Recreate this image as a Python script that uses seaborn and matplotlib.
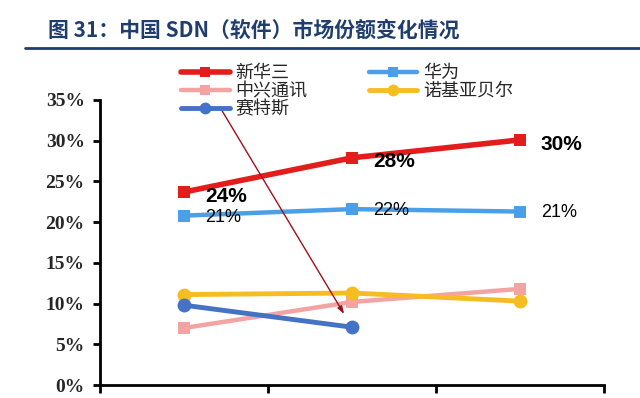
"""图 31：中国 SDN（软件）市场份额变化情况 — 折线图复刻。"""
import matplotlib

matplotlib.use("Agg")
import matplotlib.pyplot as plt
import matplotlib.lines as mlines
import pandas as pd
import seaborn as sns
from matplotlib.ticker import FuncFormatter, FixedLocator

# 数据（市场份额）
periods = [0, 1, 2]
xinhuasan = [0.237, 0.279, 0.301]
huawei = [0.208, 0.216, 0.213]
zte = [0.070, 0.102, 0.118]
nokia_bell = [0.111, 0.113, 0.103]
saitesi = [0.098, 0.071]

xinhuasan_labels = ["24%", "28%", "30%"]
huawei_labels = ["21%", "22%", "21%"]

TITLE = "图 31：中国 SDN（软件）市场份额变化情况"
TITLE_COLOR = "#1F3E6E"

series = [
    # name, values, color, marker, markersize, linewidth
    ("新华三", xinhuasan, "#E31C1C", "s", 8.5, 4.0),
    ("华为", huawei, "#4A9FE8", "s", 8.5, 3.2),
    ("中兴通讯", zte, "#F4A3A3", "s", 8.5, 3.2),
    ("诺基亚贝尔", nokia_bell, "#F5BD22", "o", 10, 3.5),
    ("赛特斯", saitesi, "#4472C4", "o", 10, 3.5),
]

sns.set_style("white")
plt.rcParams["font.family"] = ["Noto Sans CJK SC", "DejaVu Sans"]

fig = plt.figure(figsize=(6.4, 3.98), dpi=100)
ax = fig.add_axes([100 / 640, 13 / 398, 504 / 640, 285 / 398])

handles = {}
for name, values, color, marker, ms, lw in series:
    df = pd.DataFrame({"period": periods[: len(values)], "share": values})
    sns.lineplot(
        data=df, x="period", y="share", ax=ax, color=color, marker=marker,
        markersize=ms, linewidth=lw, markeredgewidth=0, estimator=None,
    )
    handles[name] = mlines.Line2D(
        [], [], color=color, marker=marker, markersize=ms * 0.85,
        linewidth=lw, markeredgewidth=0,
    )

# 数据标签
for x, y, lab in zip(periods, xinhuasan, xinhuasan_labels):
    ax.annotate(lab, (x, y), xytext=(15, -3), textcoords="offset points",
                ha="left", va="center", fontsize=15, fontweight="bold",
                family=["Liberation Sans"], color="black")
for x, y, lab in zip(periods, huawei, huawei_labels):
    ax.annotate(lab, (x, y), xytext=(15, -1), textcoords="offset points",
                ha="left", va="center", fontsize=13,
                family=["Liberation Sans"], color="black")

# 从图例指向赛特斯的箭头
ax.annotate(
    "", xy=(periods[1], saitesi[1]), xytext=(221, 289), textcoords="figure pixels",
    arrowprops=dict(arrowstyle="-|>,head_length=0.45,head_width=0.15",
                    color="#A0101A", lw=1.0, shrinkA=0, shrinkB=11),
)

ax.set_xlim(-0.5, 2.5)
ax.set_ylim(0, 0.35)
ax.xaxis.set_major_locator(FixedLocator([-0.5, 0.5, 1.5, 2.5]))
ax.set_xticklabels([])
ax.set_yticks([0, 0.05, 0.10, 0.15, 0.20, 0.25, 0.30, 0.35])
ax.yaxis.set_major_formatter(FuncFormatter(lambda v, _: f"{v * 100:.0f}%"))
for lab in ax.get_yticklabels():
    lab.set_family(["Liberation Serif"])
    lab.set_fontweight("bold")
    lab.set_fontsize(14)
ax.set_xlabel("")
ax.set_ylabel("")
ax.tick_params(axis="y", direction="out", length=5, width=2, color="black", pad=6)
ax.tick_params(axis="x", direction="out", length=6, width=2, color="black")
ax.tick_params(left=True, bottom=True)
for side in ["top", "right"]:
    ax.spines[side].set_visible(False)
for side in ["left", "bottom"]:
    ax.spines[side].set_color("black")
    ax.spines[side].set_linewidth(2)
ax.grid(False)

order = ["新华三", "中兴通讯", "赛特斯", "华为", "诺基亚贝尔"]
fig.legend(
    [handles[n] for n in order], order, ncol=2, frameon=False,
    loc="upper left", bbox_to_anchor=(181 / 640, 1 - 64 / 398),
    fontsize=13, handlelength=2.7, handletextpad=0.3,
    columnspacing=3.4, labelspacing=0.0, borderaxespad=0, borderpad=0,
)

fig.text(48 / 640, 1 - 30 / 398, TITLE, color=TITLE_COLOR, fontsize=15,
         fontweight="bold", ha="left", va="center")
fig.add_artist(mlines.Line2D([25 / 640, 1.0], [1 - 48 / 398, 1 - 48 / 398],
                             color=TITLE_COLOR, lw=2))

fig.savefig("out.png", dpi=100)
